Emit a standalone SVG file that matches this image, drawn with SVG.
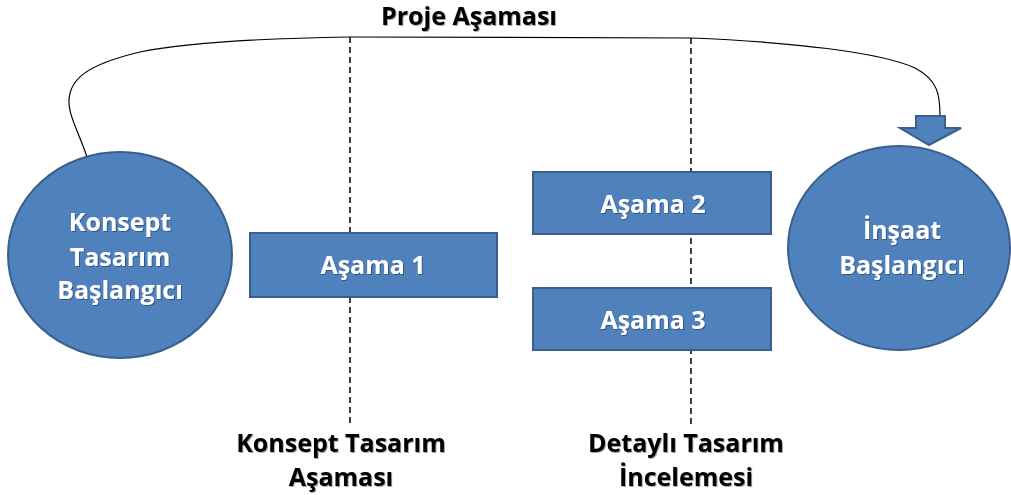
<svg xmlns="http://www.w3.org/2000/svg" width="1011" height="495" viewBox="0 0 1011 495">
<defs>
<style>
.node{fill:#4F81BD;stroke:#3A5F8C;stroke-width:2}
.wt{fill:#fff;font-family:"Open Sans","Liberation Sans",sans-serif;font-weight:bold;font-size:25px;text-anchor:middle}
.bt{fill:#000;font-family:"Open Sans","Liberation Sans",sans-serif;font-weight:bold;font-size:25px;text-anchor:middle}
.dash{stroke:#000;stroke-width:1.5;stroke-dasharray:6,4;fill:none}
</style>
<filter id="sh" x="-10%" y="-10%" width="120%" height="130%">
<feDropShadow dx="1" dy="1" stdDeviation="0.6" flood-color="#000" flood-opacity="0.35"/>
</filter>
</defs>
<rect width="1011" height="495" fill="#fff"/>
<g id="connectors">
<line class="dash" x1="350" y1="37" x2="350" y2="425"/>
<line class="dash" x1="691" y1="38" x2="691" y2="425"/>
<path d="M87,157 C80,135 68,115 69,100 C70,80 85,65 140,52 C190,42 280,38 350,37 L691,38 C790,42 880,52 915,68 C938,80 940,95 940,116" fill="none" stroke="#000" stroke-width="1.2"/>
<path class="node" d="M916,116 L945,116 L945,128 L961,128 L929,145 L900,128 L916,128 Z" stroke-width="1"/>
</g>
<g id="konsept-baslangic">
<ellipse class="node" cx="120" cy="255" rx="112" ry="103"/>
<text class="wt" filter="url(#sh)" x="120" y="231">Konsept</text>
<text class="wt" filter="url(#sh)" x="120" y="266">Tasarım</text>
<text class="wt" filter="url(#sh)" x="120" y="299">Başlangıcı</text>
</g>
<g id="asama1">
<rect class="node" x="250" y="233" width="247" height="64"/>
<text class="wt" filter="url(#sh)" x="373" y="274">Aşama 1</text>
</g>
<g id="asama2">
<rect class="node" x="533" y="172" width="238" height="62"/>
<text class="wt" filter="url(#sh)" x="653" y="213">Aşama 2</text>
</g>
<g id="asama3">
<rect class="node" x="533" y="288" width="238" height="62"/>
<text class="wt" filter="url(#sh)" x="653" y="329">Aşama 3</text>
</g>
<g id="insaat-baslangic">
<ellipse class="node" cx="899" cy="248" rx="111" ry="102"/>
<text class="wt" filter="url(#sh)" x="902" y="239">İnşaat</text>
<text class="wt" filter="url(#sh)" x="902" y="274">Başlangıcı</text>
</g>
<g id="labels">
<text class="bt" filter="url(#sh)" x="469" y="25">Proje Aşaması</text>
<text class="bt" filter="url(#sh)" x="341" y="452">Konsept Tasarım</text>
<text class="bt" filter="url(#sh)" x="341" y="486">Aşaması</text>
<text class="bt" filter="url(#sh)" x="686" y="452">Detaylı Tasarım</text>
<text class="bt" filter="url(#sh)" x="686" y="486">İncelemesi</text>
</g>
</svg>
